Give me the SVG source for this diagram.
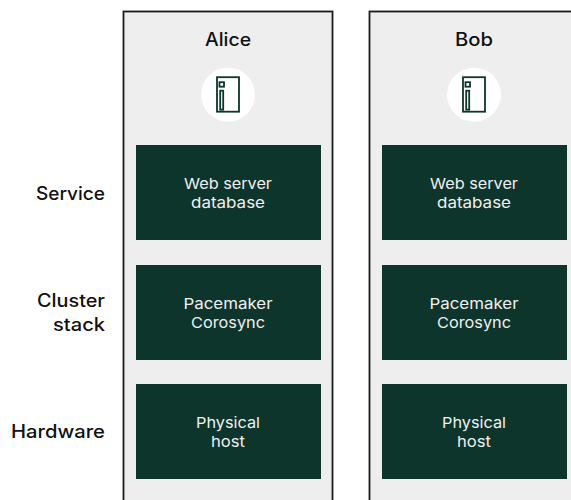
<svg xmlns="http://www.w3.org/2000/svg" width="571" height="500" viewBox="0 0 571 500">
<style>
text{font-family:"Inter","Liberation Sans",sans-serif}
.panel{fill:#eee;stroke:#1a1a1a;stroke-width:1.8}
.box{fill:#0d352c}
.t{fill:#f0f0f0;font-size:15px;text-anchor:middle}
.h{fill:#111;font-size:18px;text-anchor:middle;font-weight:500}
.l{fill:#111;font-size:18px;text-anchor:end;font-weight:500}
.ic{fill:none;stroke:#0d352c;stroke-width:1.8}
</style>
<defs>
<g id="srv"><circle cx="0" cy="0" r="27" fill="#fff"/><rect class="ic" x="-11" y="-17.500" width="22" height="34.500"/><rect class="ic" x="-8.500" y="-12.500" width="4.500" height="4.500"/><rect class="ic" x="-7.800" y="-4" width="3" height="19"/></g>
</defs>
<g id="labels"><text class="l" x="105" y="200" textLength="69" lengthAdjust="spacingAndGlyphs">Service</text><text class="l" x="105" y="307" textLength="68" lengthAdjust="spacingAndGlyphs">Cluster</text><text class="l" x="105" y="331" textLength="52" lengthAdjust="spacingAndGlyphs">stack</text><text class="l" x="105" y="438" textLength="94" lengthAdjust="spacingAndGlyphs">Hardware</text></g>
<g id="alice"><rect class="panel" x="123.500" y="11.500" width="209" height="500"/><text class="h" x="228" y="46" textLength="46" lengthAdjust="spacingAndGlyphs">Alice</text><use href="#srv" x="228" y="94.700"/></g>
<g id="bob"><rect class="panel" x="369.500" y="11.500" width="209" height="500"/><text class="h" x="474" y="46" textLength="38" lengthAdjust="spacingAndGlyphs">Bob</text><use href="#srv" x="474" y="94.700"/></g>
<g id="a1"><rect class="box" x="136" y="145" width="185" height="95"/><text class="t" x="228" y="189" textLength="88" lengthAdjust="spacingAndGlyphs">Web server</text><text class="t" x="228" y="208" textLength="74" lengthAdjust="spacingAndGlyphs">database</text></g>
<g id="a2"><rect class="box" x="136" y="265" width="185" height="95"/><text class="t" x="228" y="309" textLength="89" lengthAdjust="spacingAndGlyphs">Pacemaker</text><text class="t" x="228" y="328" textLength="74" lengthAdjust="spacingAndGlyphs">Corosync</text></g>
<g id="a3"><rect class="box" x="136" y="384" width="185" height="95"/><text class="t" x="228" y="428" textLength="64" lengthAdjust="spacingAndGlyphs">Physical</text><text class="t" x="228" y="447" textLength="34" lengthAdjust="spacingAndGlyphs">host</text></g>
<g id="b1"><rect class="box" x="382" y="145" width="185" height="95"/><text class="t" x="474" y="189" textLength="88" lengthAdjust="spacingAndGlyphs">Web server</text><text class="t" x="474" y="208" textLength="74" lengthAdjust="spacingAndGlyphs">database</text></g>
<g id="b2"><rect class="box" x="382" y="265" width="185" height="95"/><text class="t" x="474" y="309" textLength="89" lengthAdjust="spacingAndGlyphs">Pacemaker</text><text class="t" x="474" y="328" textLength="74" lengthAdjust="spacingAndGlyphs">Corosync</text></g>
<g id="b3"><rect class="box" x="382" y="384" width="185" height="95"/><text class="t" x="474" y="428" textLength="64" lengthAdjust="spacingAndGlyphs">Physical</text><text class="t" x="474" y="447" textLength="34" lengthAdjust="spacingAndGlyphs">host</text></g>
<g id="connectors"/>
</svg>
